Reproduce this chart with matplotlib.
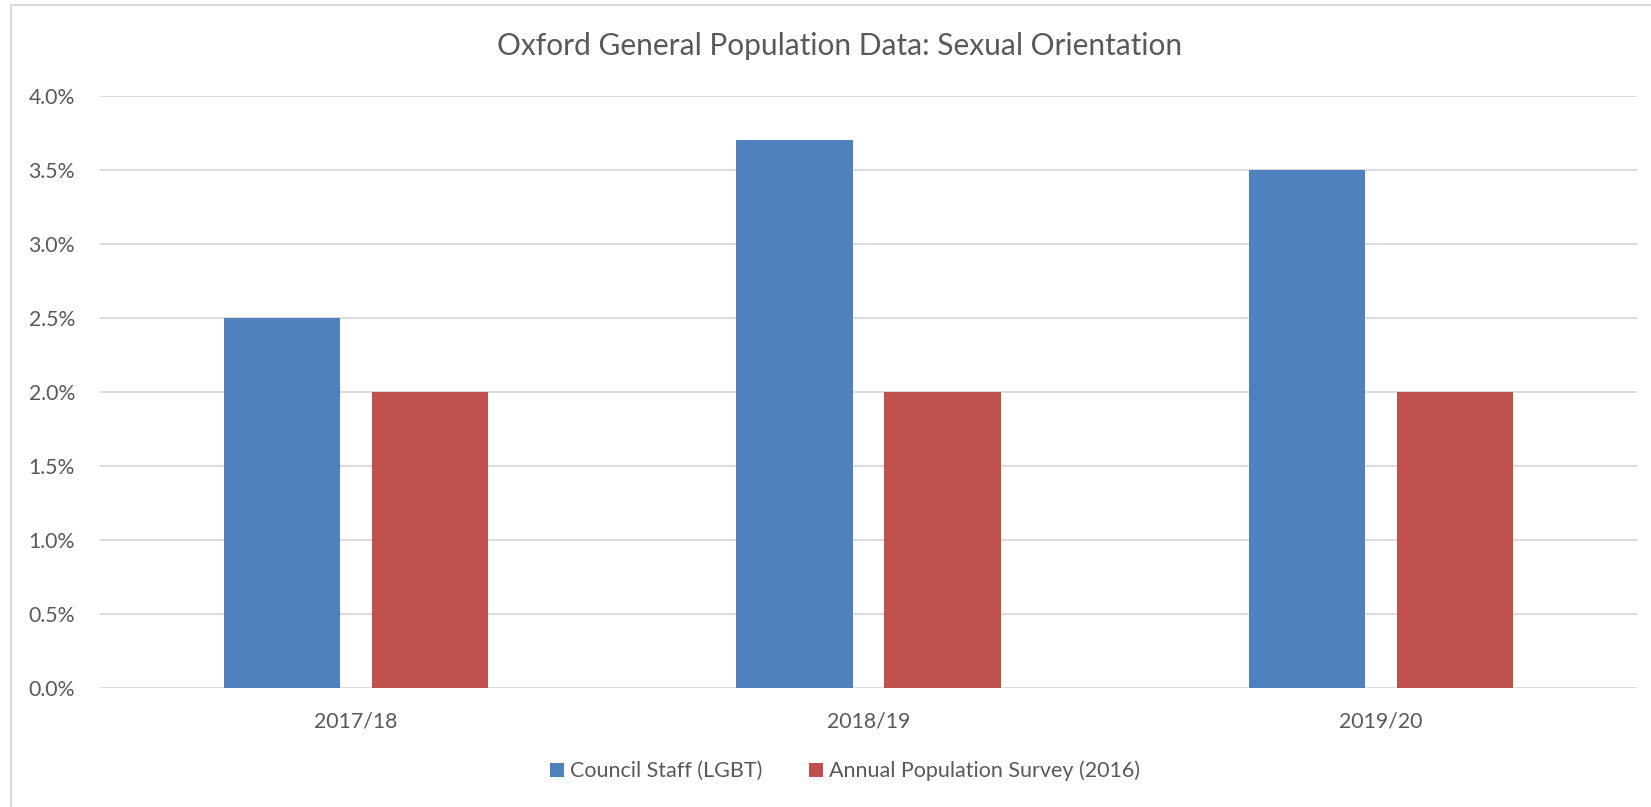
import matplotlib
matplotlib.use('Agg')
import matplotlib.pyplot as plt
import numpy as np
from matplotlib.patches import Rectangle
from matplotlib.ticker import FuncFormatter, MultipleLocator

# Data
years = ['2017/18', '2018/19', '2019/20']
council_staff = [0.025, 0.037, 0.035]
population_survey = [0.020, 0.020, 0.020]
series_names = ['Council Staff (LGBT)', 'Annual Population Survey (2016)']
title = 'Oxford General Population Data: Sexual Orientation'

blue = '#4F81BD'
red = '#C0504D'
grid_grey = '#D9D9D9'
text_grey = '#595959'

plt.rcParams['font.family'] = ['Lato', 'DejaVu Sans']

fig = plt.figure(figsize=(16.51, 8.07), dpi=100)
ax = fig.add_axes([100 / 1651, 1 - 688 / 807, 1537 / 1651, 592 / 807])

x = np.arange(len(years))
bar_w = 0.2266
offset = 0.1445
ax.bar(x - offset, council_staff, bar_w, color=blue, label=series_names[0], zorder=3)
ax.bar(x + offset, population_survey, bar_w, color=red, label=series_names[1], zorder=3)

ax.set_xlim(-0.5, len(years) - 0.5)
ax.set_ylim(0, 0.04)
ax.yaxis.set_major_locator(MultipleLocator(0.005))
ax.yaxis.set_major_formatter(FuncFormatter(lambda v, p: f'{v * 100:.1f}%'))
ax.set_xticks(x, years)
ax.grid(axis='y', color=grid_grey, linewidth=1.3, zorder=0)
ax.set_axisbelow(True)
for s in ax.spines.values():
    s.set_visible(False)
ax.tick_params(axis='both', length=0, labelsize=15.3, labelcolor=text_grey)
ax.tick_params(axis='y', pad=18)
ax.tick_params(axis='x', pad=17)

fig.text(840 / 1651, 1 - 46 / 807, title, ha='center', va='center',
         fontsize=21.5, color=text_grey)

fig.legend(loc='center', bbox_to_anchor=(845 / 1651, 1 - 771 / 807), ncol=2,
           frameon=False, fontsize=15.5, labelcolor=text_grey,
           handlelength=0.65, handleheight=0.65, handletextpad=0.26,
           columnspacing=2.2)

# outer chart frame (cut off at right and bottom)
fig.patches.append(Rectangle((10.5 / 1651, -0.05), 1.1, 1.05 - 4.5 / 807,
                             transform=fig.transFigure, fill=False,
                             edgecolor=grid_grey, linewidth=1.5))

fig.savefig('out.png', dpi=100)
